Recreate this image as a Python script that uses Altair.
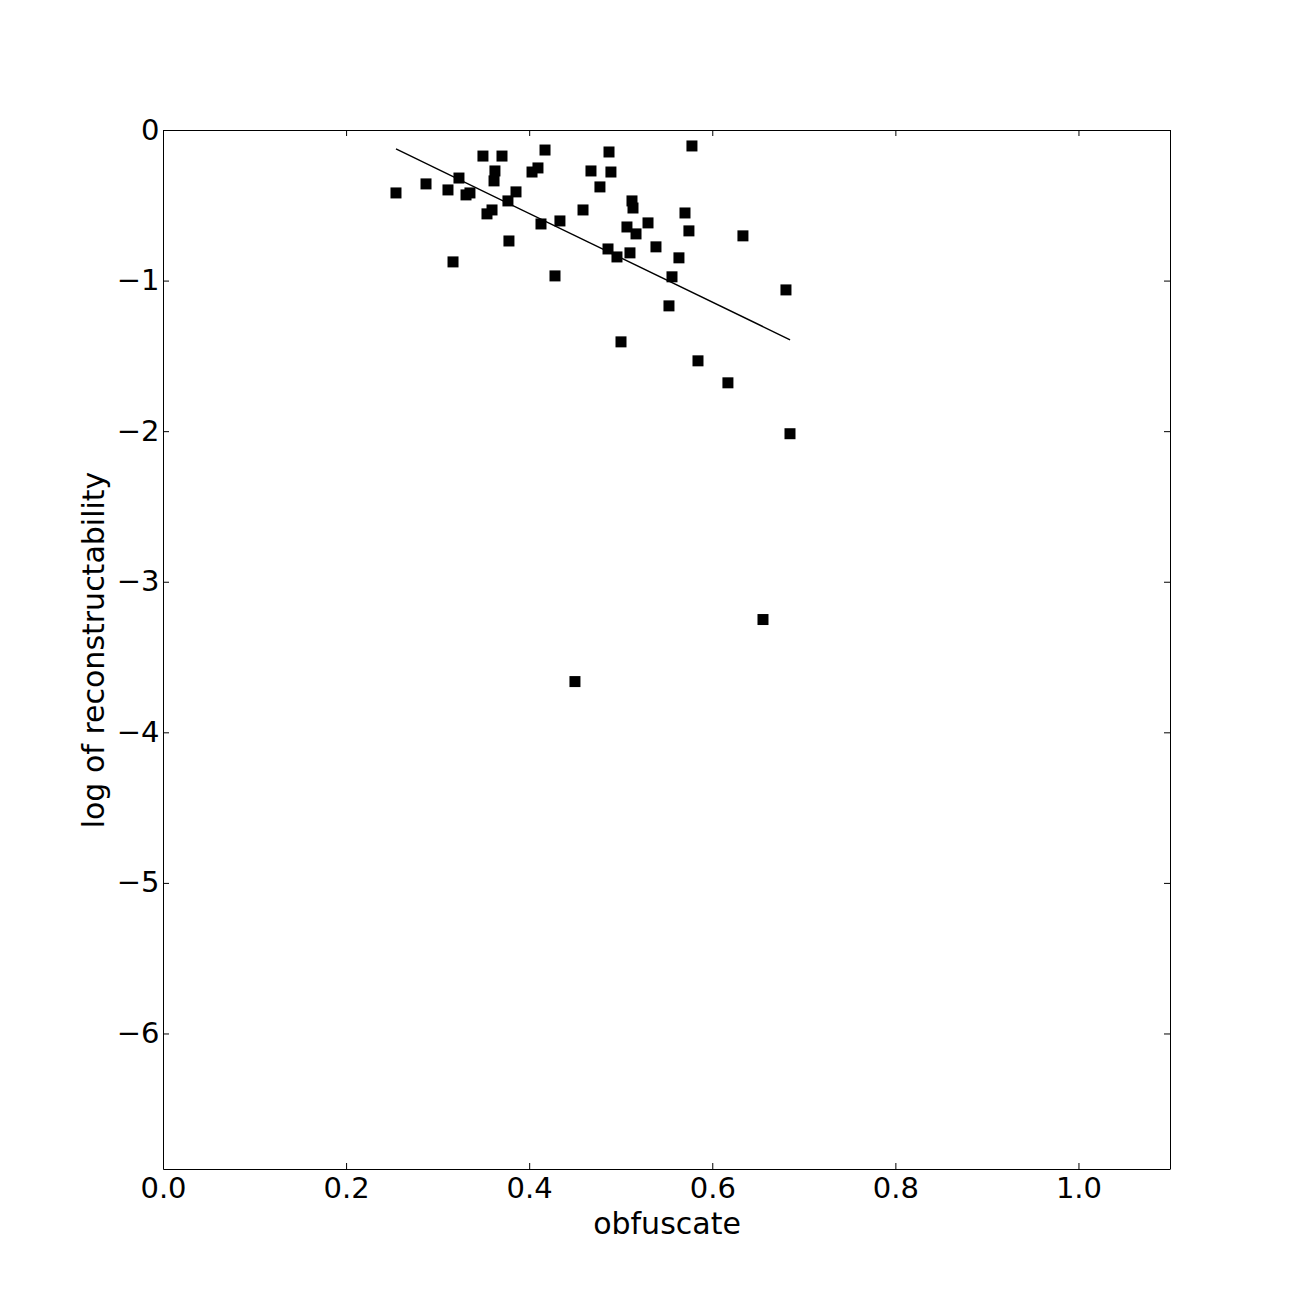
import altair as alt
import pandas as pd

obf = [0.2545, 0.2873, 0.3113, 0.3168, 0.3233, 0.3310, 0.3353, 0.3495, 0.3539, 0.3594,
       0.3616, 0.3626, 0.3703, 0.3768, 0.3779, 0.3856, 0.4031, 0.4096, 0.4129, 0.4173,
       0.4282, 0.4336, 0.4500, 0.4588, 0.4675, 0.4773, 0.4861, 0.4872, 0.4893, 0.4959,
       0.5003, 0.5068, 0.5101, 0.5123, 0.5134, 0.5167, 0.5298, 0.5385, 0.5527, 0.5560,
       0.5636, 0.5702, 0.5745, 0.5778, 0.5844, 0.6171, 0.6335, 0.6554, 0.6805, 0.6849]
logrec = [-0.418, -0.358, -0.398, -0.876, -0.319, -0.431, -0.418, -0.173, -0.557, -0.531,
          -0.338, -0.272, -0.173, -0.471, -0.737, -0.411, -0.279, -0.252, -0.624, -0.133,
          -0.969, -0.604, -3.663, -0.531, -0.272, -0.378, -0.790, -0.146, -0.279, -0.843,
          -1.407, -0.644, -0.816, -0.471, -0.518, -0.690, -0.617, -0.776, -1.168, -0.975,
          -0.849, -0.551, -0.670, -0.106, -1.533, -1.679, -0.703, -3.251, -1.062, -2.017]

fit_x = [0.2545, 0.685]
fit_y = [-0.126, -1.393]

x_ticks = [0.0, 0.2, 0.4, 0.6, 0.8, 1.0]
y_ticks = [0, -1, -2, -3, -4, -5, -6]

W, H = 1007, 1039
FONT = "DejaVu Sans"
LFS = 29
TFS = 30
TL = 6

pts = pd.DataFrame({"x": obf, "y": logrec})
fit = pd.DataFrame({"x": fit_x, "y": fit_y})
xt = pd.DataFrame({"v": x_ticks})
yt = pd.DataFrame({"v": y_ticks})

xscale = alt.Scale(domain=[0, 1.1], nice=False, zero=False)
yscale = alt.Scale(domain=[-6.9, 0], nice=False, zero=False)

xaxis = alt.Axis(values=x_ticks, format=".1f", ticks=False, grid=False,
                 domainColor="black", domainWidth=1, labelFlush=False,
                 labelFont=FONT, labelFontSize=LFS, labelColor="black",
                 labelBaseline="alphabetic", labelPadding=28,
                 title="obfuscate", titleFont=FONT, titleFontSize=TFS,
                 titleFontWeight="normal", titleColor="black",
                 titleBaseline="alphabetic", titleY=64)
yaxis = alt.Axis(values=y_ticks, format="d", ticks=False, grid=False,
                 domainColor="black", domainWidth=1, labelFlush=False,
                 labelFont=FONT, labelFontSize=LFS, labelColor="black", labelPadding=4,
                 title="log of reconstructability", titleFont=FONT, titleFontSize=TFS,
                 titleFontWeight="normal", titleColor="black",
                 titleBaseline="alphabetic", titleAngle=270, titleX=-60, titleY=H / 2)

points = alt.Chart(pts).mark_square(size=121, color="black", opacity=1).encode(
    x=alt.X("x:Q", scale=xscale, axis=xaxis),
    y=alt.Y("y:Q", scale=yscale, axis=yaxis),
)

line = alt.Chart(fit).mark_line(color="black", strokeWidth=1.4).encode(
    x=alt.X("x:Q", scale=xscale),
    y=alt.Y("y:Q", scale=yscale),
)

tick_style = dict(color="black", strokeWidth=1)
xb = alt.Chart(xt).mark_rule(xOffset=0.5, **tick_style).encode(
    x=alt.X("v:Q", scale=xscale), y=alt.value(H), y2=alt.value(H - TL))
xtop = alt.Chart(xt).mark_rule(xOffset=0.5, **tick_style).encode(
    x=alt.X("v:Q", scale=xscale), y=alt.value(0), y2=alt.value(TL))
yl = alt.Chart(yt).mark_rule(yOffset=0.5, **tick_style).encode(
    y=alt.Y("v:Q", scale=yscale), x=alt.value(0), x2=alt.value(TL))
yr = alt.Chart(yt).mark_rule(yOffset=0.5, **tick_style).encode(
    y=alt.Y("v:Q", scale=yscale), x=alt.value(W), x2=alt.value(W - TL))

border_top = alt.Chart(xt).mark_rule(color="black", strokeWidth=1, yOffset=0.5).encode(
    x=alt.value(0), x2=alt.value(W), y=alt.value(0))
border_right = alt.Chart(xt).mark_rule(color="black", strokeWidth=1, xOffset=0.5).encode(
    x=alt.value(W), y=alt.value(0), y2=alt.value(H))

chart = alt.layer(xb, xtop, yl, yr, border_top, border_right, line, points).properties(
    width=W, height=H,
    autosize=alt.AutoSizeParams(type="none"),
    padding={"left": 155, "top": 122, "right": 115, "bottom": 120},
).configure_view(stroke=None).configure(background="white")

chart.save("out.html", embed_options={"renderer": "svg", "actions": False})
